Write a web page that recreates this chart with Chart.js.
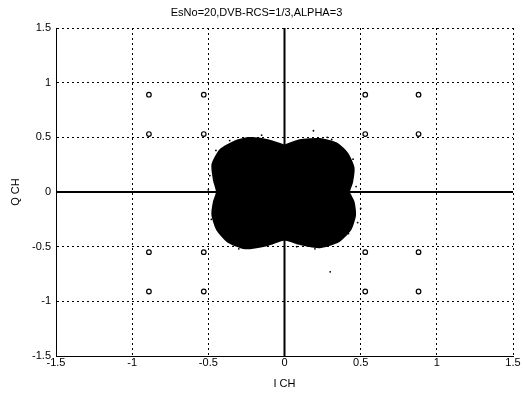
<!DOCTYPE html>
<html>
<head>
<meta charset="utf-8">
<script src="https://cdn.jsdelivr.net/npm/chart.js@4.4.1/dist/chart.umd.min.js"></script>
<style>
  html, body { margin: 0; padding: 0; background: #fff; }
  #wrap { width: 524px; height: 393px; }
</style>
</head>
<body>
<div id="wrap"><canvas id="c" width="524" height="393"></canvas></div>
<script>
// Axis tick values
const xTicks = [-1.5, -1, -0.5, 0, 0.5, 1, 1.5];
const yTicks = [-1.5, -1, -0.5, 0, 0.5, 1, 1.5];

// Reference constellation points (small circles)
const refX = [-0.89, -0.53, -0.89, -0.53, 0.88, 0.53, 0.88, 0.53,
              -0.89, -0.53, -0.89, -0.53, 0.88, 0.53, 0.88, 0.53];
const refY = [0.89, 0.89, 0.53, 0.53, 0.89, 0.89, 0.53, 0.53,
              -0.55, -0.55, -0.91, -0.91, -0.55, -0.55, -0.91, -0.91];

// Outline of the dense received-symbol cloud
const cloudX = [0, 0.10, 0.23, 0.34, 0.41, 0.45, 0.44, 0.42, 0.45, 0.46, 0.43, 0.35, 0.23, 0.10,
                0, -0.11, -0.26, -0.37, -0.44, -0.47, -0.46, -0.44, -0.46, -0.47, -0.42, -0.32, -0.23, -0.11, 0];
const cloudY = [0.42, 0.47, 0.48, 0.44, 0.35, 0.22, 0.09, 0.0, -0.09, -0.21, -0.34, -0.45, -0.50, -0.47,
                -0.43, -0.48, -0.51, -0.45, -0.34, -0.21, -0.09, 0.0, 0.11, 0.25, 0.38, 0.46, 0.49, 0.47, 0.42];

// Stray samples around the cloud
const speckX = [0.19, 0.31, 0.37, 0.45, 0.48, -0.45, -0.49, -0.40, 0.30, 0.20, -0.30, 0.42,
                -0.36, -0.48, 0.47, 0.50, -0.15, 0.08, 0.28, -0.50];
const speckY = [0.56, 0.48, 0.40, 0.30, -0.28, 0.38, 0.15, -0.40, -0.73, -0.52, -0.52, -0.38,
                0.47, -0.25, 0.05, -0.15, 0.52, -0.50, 0.50, 0.02];

// Axis lines through origin
const hLineX = [-1.5, 1.5], hLineY = [0, 0];
const vLineX = [0, 0], vLineY = [-1.5, 1.5];

const zip = (xs, ys) => xs.map((x, i) => ({x: x, y: ys[i]}));

const FONT = "'Liberation Sans', Arial, sans-serif";
Chart.defaults.font.family = FONT;
Chart.defaults.font.size = 11;
Chart.defaults.color = '#000';

new Chart(document.getElementById('c'), {
  type: 'scatter',
  data: {
    datasets: [
      {
        label: 'cloud',
        data: zip(cloudX, cloudY),
        showLine: true,
        fill: 'shape',
        backgroundColor: '#000',
        borderColor: '#000',
        borderWidth: 3,
        pointRadius: 0,
        tension: 0.2,
        order: 3
      },
      {
        label: 'specks',
        data: zip(speckX, speckY),
        pointRadius: 0.9,
        pointBackgroundColor: '#000',
        pointBorderWidth: 0,
        order: 2
      },
      {
        label: 'h',
        data: zip(hLineX, hLineY),
        showLine: true,
        borderColor: '#000',
        borderWidth: 2,
        pointRadius: 0,
        order: 1
      },
      {
        label: 'v',
        data: zip(vLineX, vLineY),
        showLine: true,
        borderColor: '#000',
        borderWidth: 2,
        pointRadius: 0,
        order: 1
      },
      {
        label: 'ref',
        data: zip(refX, refY),
        pointStyle: 'circle',
        pointRadius: 2.3,
        pointBorderWidth: 1.2,
        pointBorderColor: '#000',
        pointBackgroundColor: '#fff',
        order: 0
      }
    ]
  },
  options: {
    responsive: false,
    animation: false,
    layout: { padding: { left: 0, right: 11, top: 0, bottom: 0 } },
    plugins: {
      legend: { display: false },
      tooltip: { enabled: false },
      title: {
        display: true,
        text: 'EsNo=20,DVB-RCS=1/3,ALPHA=3',
        color: '#000',
        font: { size: 11, weight: 'normal', family: FONT },
        padding: { top: 6, bottom: 8.8 }
      }
    },
    scales: {
      x: {
        type: 'linear',
        min: -1.5, max: 1.5,
        afterBuildTicks: s => { s.ticks = xTicks.map(v => ({value: v})); },
        afterFit: s => { s.height = 37; },
        ticks: {
          padding: 0,
          color: '#000',
          font: { size: 11 },
          callback: v => String(v)
        },
        grid: { color: '#000', lineWidth: 1, drawTicks: false },
        border: { display: true, color: '#000', width: 1, dash: [2, 3] },
        title: { display: true, text: 'I CH', color: '#000', font: { size: 11 }, padding: { top: 0, bottom: 2 } }
      },
      y: {
        type: 'linear',
        min: -1.5, max: 1.5,
        afterBuildTicks: s => { s.ticks = yTicks.map(v => ({value: v})); },
        afterFit: s => { s.width = 56; },
        ticks: {
          padding: 5,
          color: '#000',
          font: { size: 11 },
          callback: v => String(v)
        },
        grid: { color: '#000', lineWidth: 1, drawTicks: false },
        border: { display: true, color: '#000', width: 1, dash: [2, 3] },
        title: { display: true, text: 'Q CH', color: '#000', font: { size: 11 }, padding: { top: 9, bottom: 0 } }
      }
    }
  }
});
</script>
</body>
</html>
